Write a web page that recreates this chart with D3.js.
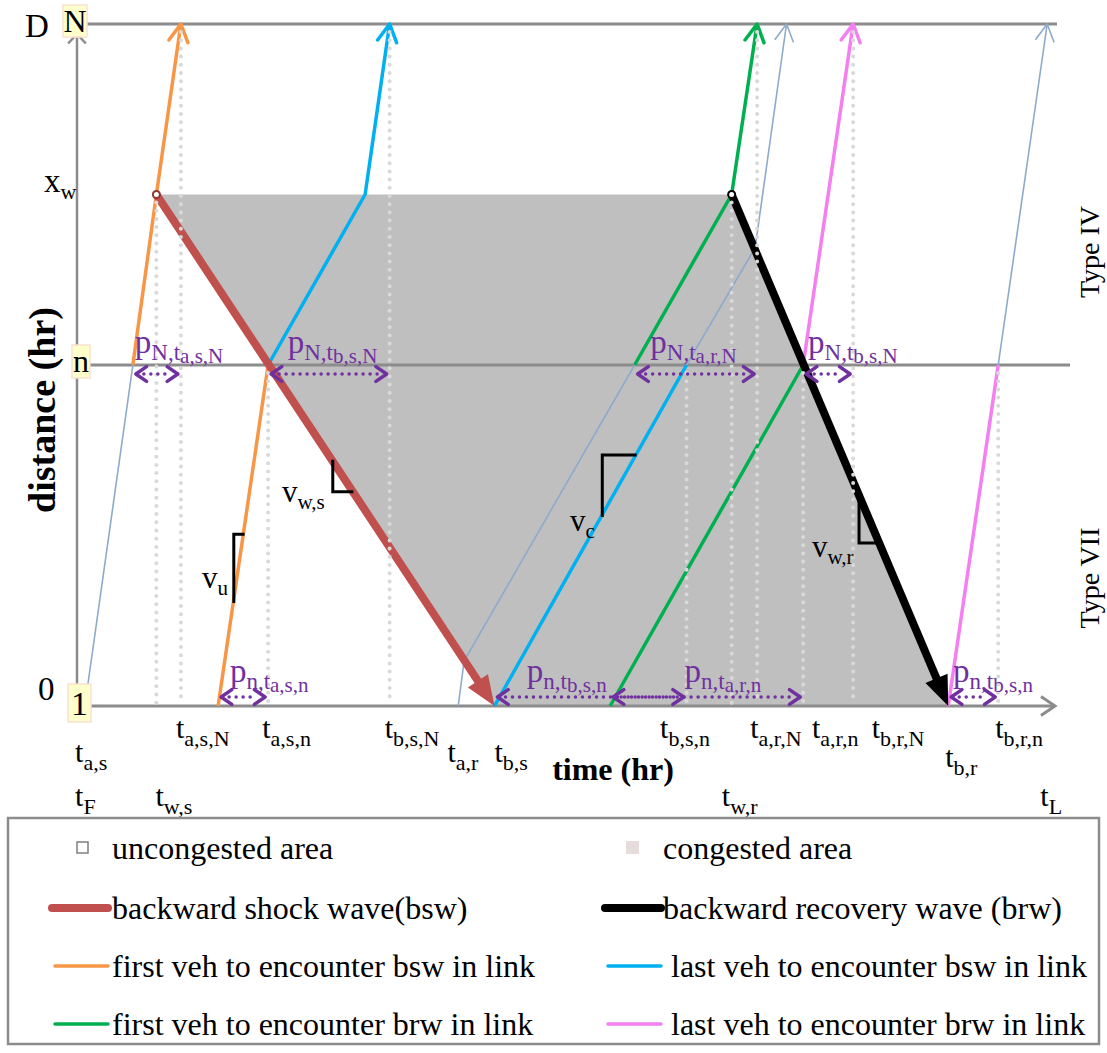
<!DOCTYPE html>
<html><head><meta charset="utf-8">
<script src="https://cdn.jsdelivr.net/npm/d3@7/dist/d3.min.js"></script>
<style>
body{margin:0;background:#fff}
svg{display:block}
text{font-family:"Liberation Serif","Times New Roman",serif}
</style>
</head><body>
<svg id="c" width="1107" height="1053"></svg>
<script>
// ---------------- DATA (time in hr-units, distance as fraction of link length) ----------------
const nodeBoxes = [{label:"1", d:0}, {label:"n", d:0.5}, {label:"N", d:1}];
const distanceTicks = [{label:"0", sub:"", d:0}, {label:"x", sub:"w", d:0.75}, {label:"D", sub:"", d:1}];
const congestedArea = [[0.81,0.75],[6.68,0.75],[8.89,0],[4.26,0]];
const shockWave = [[0.81,0.75],[4.26,0]];
const recoveryWave = [[6.68,0.75],[8.89,0]];
const otherVehicles = [
  [[0.08,0],[0.57,0.5]],
  [[3.89,0],[3.95,0.066],[5.69,0.5]],
  [[6.22,0.5],[6.92,0.672],[7.24,1]],
  [[9.40,0.5],[9.90,1]]
];
const firstVehBsw = [[[0.57,0.5],[0.81,0.75],[1.06,1]], [[1.44,0],[1.95,0.5]]];
const lastVehBsw  = [[[1.95,0.5],[2.94,0.75],[3.19,1]], [[4.26,0],[6.22,0.5]]];
const firstVehBrw = [[[5.69,0.5],[6.68,0.75],[6.94,1]], [[5.44,0],[7.41,0.5]]];
const lastVehBrw  = [[[7.41,0.5],[7.92,1]], [[8.89,0],[9.40,0.5]]];
const dropLines = [
  {t:0.81,d:0.75},{t:1.06,d:1},{t:1.95,d:0.5},{t:3.19,d:1},{t:6.22,d:0.5},
  {t:6.68,d:0.75},{t:6.94,d:1},{t:7.41,d:0.5},{t:7.92,d:1},{t:9.40,d:0.5}
];
const timeLabels = [
  {m:"t",s:"a,s,N",t:1.01,row:0},{m:"t",s:"a,s,n",t:1.89,row:0},{m:"t",s:"b,s,N",t:3.14,row:0},
  {m:"t",s:"b,s,n",t:5.95,row:0},{m:"t",s:"a,r,N",t:6.87,row:0},{m:"t",s:"a,r,n",t:7.50,row:0},
  {m:"t",s:"b,r,N",t:8.11,row:0},{m:"t",s:"b,r,n",t:9.37,row:0},
  {m:"t",s:"a,s",t:-0.02,row:1},{m:"t",s:"a,r",t:3.78,row:1},{m:"t",s:"b,s",t:4.26,row:1},
  {m:"t",s:"b,r",t:8.86,row:2},
  {m:"t",s:"F",t:-0.02,row:3},{m:"t",s:"w,s",t:0.80,row:3},{m:"t",s:"w,r",t:6.58,row:3},{m:"t",s:"L",t:9.83,row:3}
];
const headways = [
  {d:0.5,t0:0.57,t1:1.06,s1:"N,",s2:"a,s,N",lt:0.59},
  {d:0.5,t0:1.95,t1:3.19,s1:"N,",s2:"b,s,N",lt:2.15},
  {d:0.5,t0:5.69,t1:6.94,s1:"N,",s2:"a,r,N",lt:5.85},
  {d:0.5,t0:7.41,t1:7.92,s1:"N,",s2:"b,s,N",lt:7.46},
  {d:0,t0:1.44,t1:1.95,s1:"n,",s2:"a,s,n",lt:1.56},
  {d:0,t0:4.26,t1:6.22,s1:"n,",s2:"b,s,n",lt:4.59},
  {d:0,t0:5.44,t1:7.41,s1:"n,",s2:"a,r,n",lt:6.20},
  {d:0,t0:8.89,t1:9.40,s1:"n,",s2:"b,s,n",lt:8.94}
];
const slopeMarks = [
  {sub:"u",   pts:[[1.71,0.252],[1.60,0.252],[1.60,0.151]]},
  {sub:"w,s", pts:[[2.61,0.361],[2.61,0.314],[2.82,0.314]]},
  {sub:"c",   pts:[[5.71,0.368],[5.36,0.368],[5.36,0.277]]},
  {sub:"w,r", pts:[[7.98,0.306],[7.98,0.239],[8.18,0.239]]}
];
const legendItems = [
  {label:"uncongested area", kind:"box0"},
  {label:"congested area", kind:"box1"},
  {label:"backward shock wave(bsw)", kind:"bsw"},
  {label:"backward recovery wave (brw)", kind:"brw"},
  {label:"first veh to encounter bsw in link", kind:"fb"},
  {label:" last veh to encounter bsw in link", kind:"lb"},
  {label:"first veh to encounter brw in link", kind:"fr"},
  {label:" last veh to encounter brw in link", kind:"lr"}
];

// ---------------- STYLES / LAYOUT ----------------
const C = {axis:"#8c8c8c", gray:"#bfbfbf", red:"#c0504d", black:"#000", orange:"#f79646",
  blue:"#00b0f0", green:"#00b050", pink:"#f47ff0", thin:"#8eaacb", dot:"#d9d9d9", purple:"#7030a0"};
const svg = d3.select("#c");
const x = d3.scaleLinear().domain([0,10]).range([77,1057]);
const y = d3.scaleLinear().domain([0,1]).range([706,24]);
const P = p => [x(p[0]), y(p[1])];
const line = d3.line().x(d=>x(d[0])).y(d=>y(d[1]));
const pline = d3.line();

function chevron(tip, from, len, ang){
  const a = Math.atan2(from[1]-tip[1], from[0]-tip[0]);
  return [[tip[0]+len*Math.cos(a+ang), tip[1]+len*Math.sin(a+ang)], tip,
          [tip[0]+len*Math.cos(a-ang), tip[1]+len*Math.sin(a-ang)]];
}
function rich(g, px, py, parts, fill, anchor){
  const t = g.append("text").attr("x",px).attr("y",py).attr("fill",fill||"#000")
    .attr("text-anchor",anchor||"start");
  parts.forEach(p=>{ t.append("tspan").attr("y",py+p[2]).attr("font-size",p[1]).text(p[0]); });
  return t;
}

// congested area
svg.append("path").attr("d", line(congestedArea)+"Z").attr("fill",C.gray);

// axes
svg.append("line").attr("x1",x(0)).attr("x2",x(0)).attr("y1",y(0)).attr("y2",y(1)+10)
  .attr("stroke",C.axis).attr("stroke-width",2.5);
svg.append("path").attr("d",pline(chevron([x(0),y(1)+10],[x(0),y(0)],13,0.75)))
  .attr("fill","none").attr("stroke",C.axis).attr("stroke-width",2.5);
svg.append("line").attr("x1",x(0)).attr("x2",x(10)-2).attr("y1",y(0)).attr("y2",y(0))
  .attr("stroke",C.axis).attr("stroke-width",3);
svg.append("path").attr("d",pline(chevron([x(10)-2,y(0)],[x(0),y(0)],17,0.6)))
  .attr("fill","none").attr("stroke",C.axis).attr("stroke-width",3);
svg.append("line").attr("x1",x(0)+10).attr("x2",x(10)).attr("y1",y(1)).attr("y2",y(1))
  .attr("stroke",C.axis).attr("stroke-width",3);
svg.append("line").attr("x1",x(0)+10).attr("x2",x(10)+13).attr("y1",y(0.5)).attr("y2",y(0.5))
  .attr("stroke",C.axis).attr("stroke-width",3);

// trajectories
function drawTraj(list, color, width, arrLen){
  list.forEach(pts=>{
    svg.append("path").attr("d",line(pts)).attr("fill","none").attr("stroke",color)
      .attr("stroke-width",width).attr("stroke-linejoin","round");
    const last = pts[pts.length-1];
    if(last[1]===1){
      const tip = P(last), from = P(pts[pts.length-2]);
      svg.append("path").attr("d",pline(chevron(tip,from,arrLen,0.5))).attr("fill","none")
        .attr("stroke",color).attr("stroke-width",width).attr("stroke-linecap","round")
        .attr("stroke-linejoin","round");
    }
  });
}
drawTraj(otherVehicles, C.thin, 1.6, 19);
drawTraj(firstVehBsw, C.orange, 3.5, 20);
drawTraj(lastVehBsw, C.blue, 3.5, 20);
drawTraj(firstVehBrw, C.green, 3.5, 20);
drawTraj(lastVehBrw, C.pink, 3.5, 20);

// waves with filled arrowheads
function drawWave(pts, color, w){
  const a = P(pts[0]), b = P(pts[1]);
  const L = Math.hypot(b[0]-a[0], b[1]-a[1]), ux=(b[0]-a[0])/L, uy=(b[1]-a[1])/L;
  const hl=30, hw=12;
  const base=[b[0]-ux*hl, b[1]-uy*hl];
  svg.append("line").attr("x1",a[0]).attr("y1",a[1]).attr("x2",base[0]+ux*2).attr("y2",base[1]+uy*2)
    .attr("stroke",color).attr("stroke-width",w);
  svg.append("path").attr("d",pline([b,[base[0]-uy*hw,base[1]+ux*hw],[base[0]+uy*hw,base[1]-ux*hw]])+"Z")
    .attr("fill",color);
  svg.append("circle").attr("cx",a[0]).attr("cy",a[1]).attr("r",3.5).attr("fill","#fff")
    .attr("stroke",color==="#000"?"#000":"#943634").attr("stroke-width",2);
}
drawWave(shockWave, C.red, 8);
drawWave(recoveryWave, C.black, 8);

// dotted drop lines
svg.selectAll(".drop").data(dropLines).enter().append("line")
  .attr("x1",d=>x(d.t)).attr("x2",d=>x(d.t)).attr("y1",d=>y(d.d)+8).attr("y2",y(0)-3)
  .attr("stroke",C.dot).attr("stroke-width",4).attr("stroke-linecap","round")
  .attr("stroke-dasharray","0,8.2");

// headway arrows
headways.forEach(h=>{
  const yy = h.d===0 ? y(0)-9 : y(h.d)+9;
  const a=[x(h.t0)+3,yy], b=[x(h.t1)-3,yy];
  svg.append("line").attr("x1",a[0]+8).attr("x2",b[0]-8).attr("y1",yy).attr("y2",yy)
    .attr("stroke",C.purple).attr("stroke-width",3.5).attr("stroke-linecap","round")
    .attr("stroke-dasharray","0,7");
  [[a,b],[b,a]].forEach(([tip,from])=>{
    svg.append("path").attr("d",pline(chevron(tip,from,13,0.6))).attr("fill","none")
      .attr("stroke",C.purple).attr("stroke-width",3.5).attr("stroke-linecap","round").attr("stroke-linejoin","round");
  });
  const by = h.d===0 ? y(0)-24 : y(h.d)-12;
  rich(svg, x(h.lt), by, [["p",33,0],[h.s1,23,7],["t",23,7],[h.s2,21,10]], C.purple);
});

// slope markers
slopeMarks.forEach((s,i)=>{
  svg.append("path").attr("d",line(s.pts)).attr("fill","none").attr("stroke","#000")
    .attr("stroke-width",3);
});
const slopeLabelPos = [[202,588],[282,502],[570,531],[812,557]];
slopeMarks.forEach((s,i)=>{
  rich(svg, slopeLabelPos[i][0], slopeLabelPos[i][1], [["v",31,0],[s.sub,21,7]]);
});

// node boxes
const boxW = {"1":[-11,-22,23,38],"n":[-7,-20,18,33],"N":[-13,-19,24,32]};
const boxX = {"1":79,"n":79,"N":76};
nodeBoxes.forEach(b=>{
  const cx = boxX[b.label], cy = y(b.d);
  const r = boxW[b.label];
  svg.append("rect").attr("x",cx+r[0]).attr("y",cy+r[1]).attr("width",r[2]).attr("height",r[3])
    .attr("fill","#ffffcc").attr("stroke","#fbe0d0").attr("stroke-width",1.5);
  svg.append("text").attr("x",cx+r[0]+r[2]/2).attr("y",cy+r[1]+r[3]-(b.label==="1"?7:b.label==="n"?6:5))
    .attr("text-anchor","middle").attr("font-size",b.label==="1"?34:32).text(b.label);
});

// distance tick labels
const distPos = {"0":[38,700],"x":[44,192],"D":[25,37]};
distanceTicks.forEach(t=>{
  const p = distPos[t.label];
  rich(svg,p[0],p[1],[[t.label,33,0],[t.sub,22,7]]);
});

// time tick labels
const rowY=[738,762,767,806];
timeLabels.forEach(l=>{
  rich(svg, x(l.t), rowY[l.row], [[l.m,30,0],[l.s,22,8]]);
});

// axis titles
svg.append("text").attr("transform","translate(55,410) rotate(-90)").attr("text-anchor","middle")
  .attr("font-size",38).attr("font-weight","bold").text("distance (hr)");
svg.append("text").attr("x",613).attr("y",780).attr("text-anchor","middle")
  .attr("font-size",32).attr("font-weight","bold").text("time (hr)");
svg.append("text").attr("transform","translate(1099,252) rotate(-90)").attr("text-anchor","middle")
  .attr("font-size",28).text("Type IV");
svg.append("text").attr("transform","translate(1099,578) rotate(-90)").attr("text-anchor","middle")
  .attr("font-size",28).text("Type VII");

// legend
svg.append("rect").attr("x",8).attr("y",818).attr("width",1091).attr("height",226)
  .attr("fill","none").attr("stroke",C.axis).attr("stroke-width",2.5);
const legCol=[{sx:52,ex:108,tx:112},{sx:605,ex:661,tx:663}];
const legRow=[848,908,966,1024];
legendItems.forEach((it,i)=>{
  const c=legCol[i%2], r=legRow[Math.floor(i/2)];
  const g=svg.append("g");
  if(it.kind==="box0"){
    g.append("rect").attr("x",77).attr("y",r-6).attr("width",11).attr("height",11)
      .attr("fill","#fff").attr("stroke","#7f7f7f").attr("stroke-width",1.5);
  } else if(it.kind==="box1"){
    g.append("rect").attr("x",626).attr("y",r-7).attr("width",13).attr("height",13)
      .attr("fill","#e6dcdc");
  } else {
    const col={bsw:C.red,brw:C.black,fb:C.orange,lb:C.blue,fr:C.green,lr:C.pink}[it.kind];
    const w=(it.kind==="bsw"||it.kind==="brw")?8:3.5;
    const sx = (it.kind==="bsw"||it.kind==="brw")?c.sx:c.sx+3;
    g.append("line").attr("x1",sx).attr("x2",c.ex).attr("y1",r).attr("y2",r)
      .attr("stroke",col).attr("stroke-width",w).attr("stroke-linecap","round");
  }
  g.append("text").attr("x",c.tx).attr("y",r+11).attr("font-size",32).attr("xml:space","preserve")
    .style("white-space","pre").text(it.label);
});
</script>
</body></html>
